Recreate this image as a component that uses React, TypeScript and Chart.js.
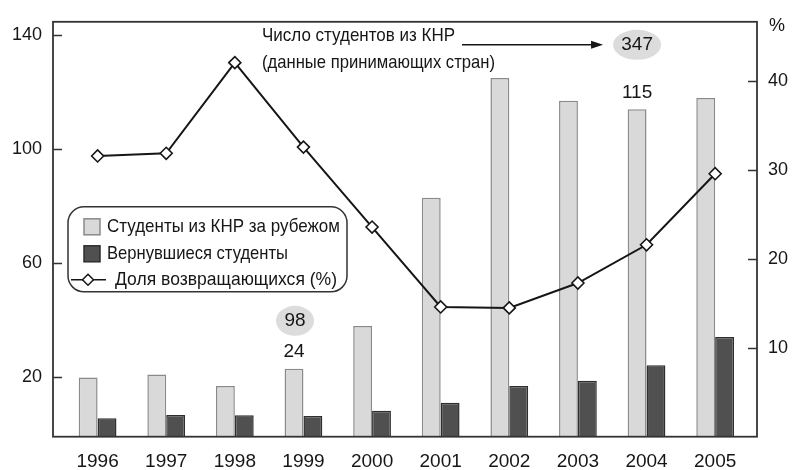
import React, { useEffect, useRef } from "react";
import { Chart, registerables } from "chart.js";

Chart.register(...registerables);

const years = [1996, 1997, 1998, 1999, 2000, 2001, 2002, 2003, 2004, 2005];
const studentsAbroad = [20, 21, 17, 23, 38, 83, 125, 117, 114, 118];
const returnedStudents = [5.7, 6.8, 6.7, 6.5, 8.3, 11.1, 17, 18.8, 24.3, 34.2];
const returnShare = [31.6, 31.9, 42.1, 32.6, 23.6, 14.6, 14.5, 17.3, 21.6, 29.6];
const leftTicks = [20, 60, 100, 140];
const rightTicks = [10, 20, 30, 40];
const seriesNames = [
  "Студенты из КНР за рубежом",
  "Вернувшиеся студенты",
  "Доля возвращающихся (%)",
];
const noteLines = ["Число студентов из КНР", "(данные принимающих стран)"];
const calloutTotal = "347";
const callout2004 = "115";
const callout1999 = "24";
const calloutTotal1999 = "98";

const FONT = '"Liberation Sans", Arial, sans-serif';
const TEXT = "#161616";
const LIGHT = "#d9d9d9";
const LIGHT_BORDER = "#8a8a8a";
const DARK = "#505050";
const DARK_BORDER = "#2e2e2e";

function drawText(
  ctx: CanvasRenderingContext2D,
  text: string,
  x: number,
  y: number,
  size: number,
  width?: number,
  align: CanvasTextAlign = "left"
) {
  ctx.save();
  ctx.font = `${size}px ${FONT}`;
  const w = ctx.measureText(text).width;
  const s = width ? width / w : 1;
  ctx.translate(x, y);
  ctx.scale(s, 1);
  ctx.textBaseline = "middle";
  ctx.textAlign = align;
  ctx.fillStyle = TEXT;
  ctx.fillText(text, 0, 0);
  ctx.restore();
}

function diamond(ctx: CanvasRenderingContext2D, x: number, y: number, r: number) {
  ctx.beginPath();
  ctx.moveTo(x, y - r);
  ctx.lineTo(x + r, y);
  ctx.lineTo(x, y + r);
  ctx.lineTo(x - r, y);
  ctx.closePath();
  ctx.fillStyle = "#fff";
  ctx.fill();
  ctx.strokeStyle = TEXT;
  ctx.lineWidth = 1.5;
  ctx.stroke();
}

const decorPlugin = {
  id: "decor",
  afterDraw(chart: any) {
    const { ctx, chartArea: a, scales } = chart;
    const y = scales.y;
    const y2 = scales.y2;
    ctx.save();
    // frame
    ctx.strokeStyle = "#333";
    ctx.lineWidth = 1.8;
    ctx.strokeRect(a.left, a.top, a.right - a.left, a.bottom - a.top);
    // inward ticks
    ctx.lineWidth = 1.5;
    ctx.beginPath();
    leftTicks.forEach((v) => {
      const py = Math.round(y.getPixelForValue(v)) + 0.5;
      ctx.moveTo(a.left, py);
      ctx.lineTo(a.left + 9, py);
    });
    rightTicks.forEach((v) => {
      const py = Math.round(y2.getPixelForValue(v)) + 0.5;
      ctx.moveTo(a.right - 9, py);
      ctx.lineTo(a.right, py);
    });
    ctx.stroke();
    // % unit
    drawText(ctx, "%", a.right + 20, a.top + 4, 18, undefined, "center");

    // note text + arrow
    const nx = a.left + 209;
    drawText(ctx, noteLines[0], nx, a.top + 14, 19, 193);
    drawText(ctx, noteLines[1], nx, a.top + 41, 19, 233);

    const bars = chart.getDatasetMeta(0).data;
    const b2004 = bars[8];
    const b1999 = bars[3];

    // ellipse 347
    const ey = a.top + 23;
    ctx.beginPath();
    ctx.ellipse(b2004.x, ey, 24, 15, 0, 0, Math.PI * 2);
    ctx.fillStyle = "#dcdcdc";
    ctx.fill();
    drawText(ctx, calloutTotal, b2004.x, ey, 19, undefined, "center");

    // arrow
    ctx.strokeStyle = TEXT;
    ctx.fillStyle = TEXT;
    ctx.lineWidth = 1.5;
    const ax0 = a.left + 409;
    const ax1 = b2004.x - 34;
    ctx.beginPath();
    ctx.moveTo(ax0, ey);
    ctx.lineTo(ax1 - 10, ey);
    ctx.stroke();
    ctx.beginPath();
    ctx.moveTo(ax1, ey);
    ctx.lineTo(ax1 - 12, ey - 4);
    ctx.lineTo(ax1 - 12, ey + 4);
    ctx.closePath();
    ctx.fill();

    // 115 above 2004
    drawText(ctx, callout2004, b2004.x, b2004.y - 17, 19, undefined, "center");
    // 24 above 1999
    drawText(ctx, callout1999, b1999.x, b1999.y - 17, 19, undefined, "center");
    // ellipse 98
    const e2y = b1999.y - 48;
    ctx.beginPath();
    ctx.ellipse(b1999.x + 1, e2y, 19, 15, 0, 0, Math.PI * 2);
    ctx.fillStyle = "#dcdcdc";
    ctx.fill();
    drawText(ctx, calloutTotal1999, b1999.x + 1, e2y, 19, undefined, "center");

    // legend box
    const lx = a.left + 15;
    const ly = a.top + 185;
    const lw = 279;
    const lh = 85;
    const r = 16;
    ctx.beginPath();
    ctx.moveTo(lx + r, ly);
    ctx.lineTo(lx + lw - r, ly);
    ctx.arcTo(lx + lw, ly, lx + lw, ly + r, r);
    ctx.lineTo(lx + lw, ly + lh - r);
    ctx.arcTo(lx + lw, ly + lh, lx + lw - r, ly + lh, r);
    ctx.lineTo(lx + r, ly + lh);
    ctx.arcTo(lx, ly + lh, lx, ly + lh - r, r);
    ctx.lineTo(lx, ly + r);
    ctx.arcTo(lx, ly, lx + r, ly, r);
    ctx.closePath();
    ctx.fillStyle = "#fff";
    ctx.fill();
    ctx.strokeStyle = "#333";
    ctx.lineWidth = 1.5;
    ctx.stroke();

    // legend items
    ctx.fillStyle = LIGHT;
    ctx.fillRect(lx + 16, ly + 12, 16, 16);
    ctx.strokeStyle = LIGHT_BORDER;
    ctx.strokeRect(lx + 16, ly + 12, 16, 16);
    drawText(ctx, seriesNames[0], lx + 39, ly + 20, 19, 233);

    ctx.fillStyle = DARK;
    ctx.fillRect(lx + 16, ly + 39, 16, 16);
    ctx.strokeStyle = DARK_BORDER;
    ctx.strokeRect(lx + 16, ly + 39, 16, 16);
    drawText(ctx, seriesNames[1], lx + 39, ly + 47, 19, 181);

    ctx.strokeStyle = TEXT;
    ctx.lineWidth = 1.6;
    ctx.beginPath();
    ctx.moveTo(lx + 3, ly + 73);
    ctx.lineTo(lx + 38, ly + 73);
    ctx.stroke();
    diamond(ctx, lx + 20, ly + 73, 5.5);
    drawText(ctx, seriesNames[2], lx + 47, ly + 73, 19, 222);

    ctx.restore();
  },
};

export default function App() {
  const canvasRef = useRef<HTMLCanvasElement | null>(null);

  useEffect(() => {
    const canvas = canvasRef.current;
    if (!canvas) return;
    const tickFont = { family: FONT, size: 18 };
    const xTickFont = { family: FONT, size: 19 };
    const chart = new Chart(canvas, {
      type: "bar",
      data: {
        datasets: [
          {
            type: "bar",
            label: seriesNames[0],
            data: years.map((yr, i) => ({ x: yr, y: studentsAbroad[i] })),
            backgroundColor: LIGHT,
            borderColor: LIGHT_BORDER,
            borderWidth: 1.5,
            yAxisID: "y",
            base: -0.8,
            order: 1,
            categoryPercentage: 0.55,
            barPercentage: 1.0,
          } as any,
          {
            type: "bar",
            label: seriesNames[1],
            data: years.map((yr, i) => ({ x: yr, y: returnedStudents[i] })),
            backgroundColor: DARK,
            borderColor: DARK_BORDER,
            borderWidth: 1.5,
            yAxisID: "y",
            base: -0.8,
            order: 1,
            categoryPercentage: 0.55,
            barPercentage: 1.0,
          } as any,
          {
            type: "line",
            label: seriesNames[2],
            data: years.map((yr, i) => ({ x: yr, y: returnShare[i] })),
            borderColor: TEXT,
            borderWidth: 2,
            pointStyle: "rectRot",
            pointRadius: 6,
            pointBackgroundColor: "#fff",
            pointBorderColor: TEXT,
            pointBorderWidth: 1.6,
            tension: 0,
            yAxisID: "y2",
            order: 0,
          } as any,
        ],
      },
      options: {
        responsive: false,
        animation: false,
        devicePixelRatio: 1,
        layout: { padding: { top: 20.5, left: 0, right: 0, bottom: 0 } },
        plugins: {
          legend: { display: false },
          tooltip: { enabled: false },
        },
        scales: {
          x: {
            type: "linear",
            offset: false,
            min: 1995.35,
            max: 2005.61,
            grid: { display: false, drawTicks: false, offset: false },
            border: { display: false },
            ticks: {
              font: xTickFont,
              color: TEXT,
              padding: 14,
              maxRotation: 0,
              autoSkip: false,
              callback: (v: any) => String(v),
            },
            afterBuildTicks: (s: any) => {
              s.ticks = years.map((v) => ({ value: v }));
            },
            afterFit: (s: any) => {
              s.height = 33.3;
            },
          },
          y: {
            type: "linear",
            position: "left",
            min: -0.8,
            max: 144.7,
            grid: { display: false, drawTicks: false },
            border: { display: false },
            ticks: { font: tickFont, color: TEXT, padding: 11 },
            afterBuildTicks: (s: any) => {
              s.ticks = leftTicks.map((v) => ({ value: v }));
            },
            afterFit: (s: any) => {
              s.width = 53;
            },
          },
          y2: {
            type: "linear",
            position: "right",
            min: 0,
            max: 46.7,
            grid: { display: false, drawTicks: false },
            border: { display: false },
            ticks: { font: tickFont, color: TEXT, padding: 11 },
            afterBuildTicks: (s: any) => {
              s.ticks = rightTicks.map((v) => ({ value: v }));
            },
            afterFit: (s: any) => {
              s.width = 36;
            },
          },
        },
      } as any,
      plugins: [decorPlugin],
    });
    return () => chart.destroy();
  }, []);

  return (
    <div
      style={{
        position: "fixed",
        left: 0,
        top: 0,
        width: 793,
        height: 470,
        background: "#fff",
      }}
    >
      <canvas ref={canvasRef} width={793} height={470} />
    </div>
  );
}
